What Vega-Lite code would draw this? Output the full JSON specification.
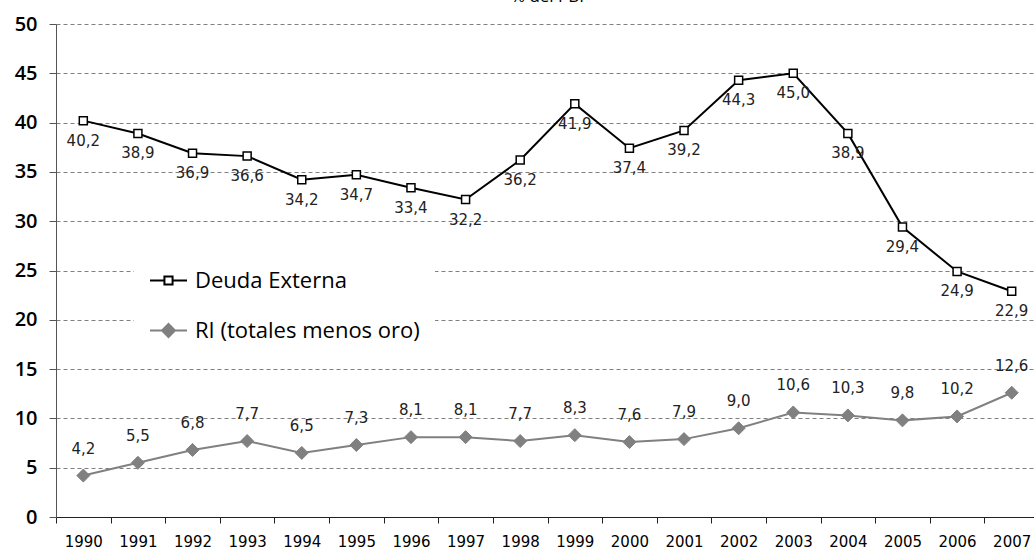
{
  "$schema": "https://vega.github.io/schema/vega-lite/v6.json",
  "width": 983,
  "height": 493,
  "autosize": "none",
  "padding": {"left": 56, "top": 24, "right": 0, "bottom": 36},
  "title": {"text": "% del PBI", "fontSize": 17, "font": "Open Sans", "fontWeight": "normal", "color": "#000", "offset": 8, "anchor": "middle"},
  "data": {"values": [
    {"year": "1990", "serie": "Deuda Externa", "value": 40.2},
    {"year": "1991", "serie": "Deuda Externa", "value": 38.9},
    {"year": "1992", "serie": "Deuda Externa", "value": 36.9},
    {"year": "1993", "serie": "Deuda Externa", "value": 36.6},
    {"year": "1994", "serie": "Deuda Externa", "value": 34.2},
    {"year": "1995", "serie": "Deuda Externa", "value": 34.7},
    {"year": "1996", "serie": "Deuda Externa", "value": 33.4},
    {"year": "1997", "serie": "Deuda Externa", "value": 32.2},
    {"year": "1998", "serie": "Deuda Externa", "value": 36.2},
    {"year": "1999", "serie": "Deuda Externa", "value": 41.9},
    {"year": "2000", "serie": "Deuda Externa", "value": 37.4},
    {"year": "2001", "serie": "Deuda Externa", "value": 39.2},
    {"year": "2002", "serie": "Deuda Externa", "value": 44.3},
    {"year": "2003", "serie": "Deuda Externa", "value": 45.0},
    {"year": "2004", "serie": "Deuda Externa", "value": 38.9},
    {"year": "2005", "serie": "Deuda Externa", "value": 29.4},
    {"year": "2006", "serie": "Deuda Externa", "value": 24.9},
    {"year": "2007", "serie": "Deuda Externa", "value": 22.9},
    {"year": "1990", "serie": "RI (totales menos oro)", "value": 4.2},
    {"year": "1991", "serie": "RI (totales menos oro)", "value": 5.5},
    {"year": "1992", "serie": "RI (totales menos oro)", "value": 6.8},
    {"year": "1993", "serie": "RI (totales menos oro)", "value": 7.7},
    {"year": "1994", "serie": "RI (totales menos oro)", "value": 6.5},
    {"year": "1995", "serie": "RI (totales menos oro)", "value": 7.3},
    {"year": "1996", "serie": "RI (totales menos oro)", "value": 8.1},
    {"year": "1997", "serie": "RI (totales menos oro)", "value": 8.1},
    {"year": "1998", "serie": "RI (totales menos oro)", "value": 7.7},
    {"year": "1999", "serie": "RI (totales menos oro)", "value": 8.3},
    {"year": "2000", "serie": "RI (totales menos oro)", "value": 7.6},
    {"year": "2001", "serie": "RI (totales menos oro)", "value": 7.9},
    {"year": "2002", "serie": "RI (totales menos oro)", "value": 9.0},
    {"year": "2003", "serie": "RI (totales menos oro)", "value": 10.6},
    {"year": "2004", "serie": "RI (totales menos oro)", "value": 10.3},
    {"year": "2005", "serie": "RI (totales menos oro)", "value": 9.8},
    {"year": "2006", "serie": "RI (totales menos oro)", "value": 10.2},
    {"year": "2007", "serie": "RI (totales menos oro)", "value": 12.6}
  ]},
  "encoding": {
    "x": {
      "field": "year", "type": "ordinal", "title": null,
      "scale": {"type": "band", "paddingInner": 0, "paddingOuter": 0},
      "axis": {"labelAngle": 0, "tickBand": "extent", "tickSize": 6, "tickColor": "#222", "domainColor": "#222", "labelPadding": 11, "labelFont": "DejaVu Sans", "labelFontSize": 15, "labelColor": "#000", "grid": false}
    },
    "y": {
      "field": "value", "type": "quantitative", "title": null,
      "scale": {"domain": [0, 50], "nice": false, "zero": true},
      "axis": {"values": [0, 5, 10, 15, 20, 25, 30, 35, 40, 45, 50], "tickSize": 7, "tickColor": "#555", "domainColor": "#555", "labelPadding": 12, "labelFont": "Open Sans", "labelFontSize": 20, "labelFontWeight": 600, "labelColor": "#000", "grid": true, "gridColor": "#808080", "gridDash": [4, 3], "gridWidth": 1}
    }
  },
  "layer": [
    {
      "mark": {"type": "line", "strokeWidth": 2},
      "encoding": {
        "color": {
          "field": "serie", "type": "nominal",
          "scale": {"domain": ["Deuda Externa", "RI (totales menos oro)"], "range": ["#000000", "#808080"]},
          "legend": {
            "title": null, "orient": "none", "legendX": 78, "legendY": 222, "padding": 15, "fillColor": "white",
            "symbolSize": 1369, "symbolStrokeWidth": 2, "rowPadding": 19, "labelOffset": 7, "labelLimit": 400,
            "labelFont": "Open Sans", "labelFontSize": 22, "labelColor": "#000",
            "encode": {"symbols": {"update": {
              "shape": {"signal": "datum.value == 'Deuda Externa' ? 'M-1,0H-0.22M0.22,0H1M-0.22,-0.22H0.22V0.22H-0.22Z' : 'M-1,0H-0.35M0.35,0H1M-0.35,0L0,-0.35L0.35,0L0,0.35Z'"},
              "fill": {"signal": "datum.value == 'Deuda Externa' ? '#ffffff' : '#808080'"},
              "stroke": {"signal": "datum.value == 'Deuda Externa' ? '#000000' : '#808080'"},
              "strokeWidth": {"value": 2},
              "opacity": {"value": 1}
            }}}
          }
        }
      }
    },
    {
      "transform": [{"filter": "datum.serie == 'Deuda Externa'"}],
      "mark": {"type": "point", "shape": "square", "size": 64, "filled": false, "fill": "#ffffff", "stroke": "#000000", "strokeWidth": 1.5, "opacity": 1}
    },
    {
      "transform": [{"filter": "datum.serie != 'Deuda Externa'"}],
      "mark": {"type": "point", "shape": "diamond", "size": 169, "filled": true, "fill": "#808080", "stroke": "#808080", "strokeWidth": 1, "opacity": 1}
    },
    {
      "transform": [{"filter": "datum.serie == 'Deuda Externa'"}],
      "mark": {"type": "text", "dy": 20, "font": "DejaVu Sans", "fontSize": 15, "color": "#222"},
      "encoding": {"text": {"field": "value", "type": "quantitative", "format": ".1f"}}
    },
    {
      "transform": [{"filter": "datum.serie != 'Deuda Externa'"}],
      "mark": {"type": "text", "dy": -27, "font": "DejaVu Sans", "fontSize": 15, "color": "#222"},
      "encoding": {"text": {"field": "value", "type": "quantitative", "format": ".1f"}}
    }
  ],
  "config": {
    "view": {"stroke": null},
    "locale": {"number": {"decimal": ",", "thousands": ".", "grouping": [3], "currency": ["", " €"]}}
  }
}
